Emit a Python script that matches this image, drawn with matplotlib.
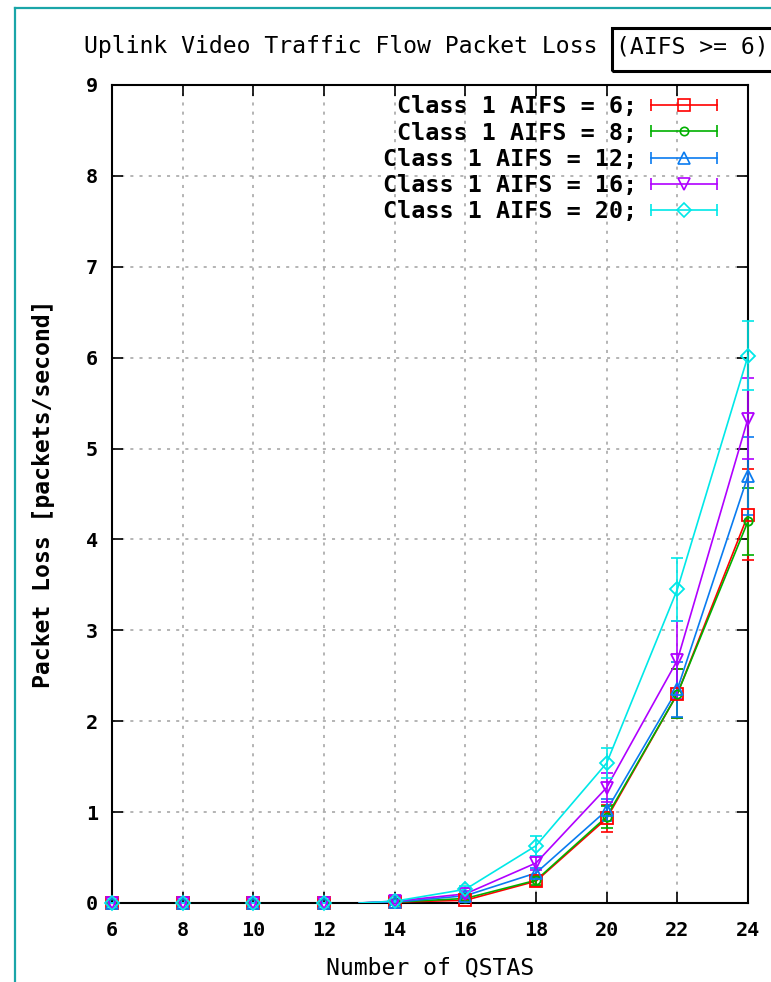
"""
Uplink video packet loss vs. number of QSTAs for several AIFS settings,
drawn in a gnuplot-like style (error bars, dotted grid, mirrored ticks).
"""

import matplotlib
matplotlib.use("Agg")
import matplotlib.pyplot as plt
from matplotlib.lines import Line2D
from matplotlib.patches import Rectangle
from matplotlib.legend_handler import HandlerBase

# number of stations on the x axis
qstas = [6, 8, 10, 12, 14, 16, 18, 20, 22, 24]

# mean packet loss (packets/second) and error bar half-widths
loss_aifs6 = [0, 0, 0, 0, 0.01, 0.03, 0.24, 0.93, 2.30, 4.27]
err_aifs6 = [0, 0, 0, 0, 0.01, 0.02, 0.05, 0.15, 0.27, 0.50]
loss_aifs8 = [0, 0, 0, 0, 0.01, 0.05, 0.25, 0.95, 2.30, 4.20]
err_aifs8 = [0, 0, 0, 0, 0.01, 0.03, 0.05, 0.12, 0.27, 0.37]
loss_aifs12 = [0, 0, 0, 0, 0.01, 0.08, 0.33, 1.02, 2.35, 4.70]
err_aifs12 = [0, 0, 0, 0, 0.01, 0.03, 0.06, 0.12, 0.30, 0.43]
loss_aifs16 = [0, 0, 0, 0, 0.02, 0.10, 0.44, 1.27, 2.67, 5.33]
err_aifs16 = [0, 0, 0, 0, 0.01, 0.03, 0.08, 0.16, 0.43, 0.45]
loss_aifs20 = [0, 0, 0, 0, 0.02, 0.15, 0.63, 1.54, 3.45, 6.02]
err_aifs20 = [0, 0, 0, 0, 0.01, 0.04, 0.11, 0.16, 0.35, 0.38]

labels = ["Class 1 AIFS = 6;", "Class 1 AIFS = 8;", "Class 1 AIFS = 12;",
          "Class 1 AIFS = 16;", "Class 1 AIFS = 20;"]

# connecting lines only start here (loss is 0 at this point)
line_start = 13

MONO = "DejaVu Sans Mono"


class CapLineHandler(HandlerBase):
    """Legend sample: horizontal line with end caps and a marker in the middle."""

    def create_artists(self, legend, orig_handle, xdescent, ydescent,
                       width, height, fontsize, trans):
        c = orig_handle.get_color()
        y = height / 2 - ydescent
        x0, x1 = -xdescent, width - xdescent
        line = Line2D([x0, x1], [y, y], color=c, lw=1.2)
        caps = Line2D([x0, x1], [y, y], color=c, linestyle="none",
                      marker="|", markersize=9, markeredgewidth=1.2)
        mk = Line2D([(x0 + x1) / 2], [y], color=c, linestyle="none",
                    marker=orig_handle.get_marker(),
                    markersize=orig_handle.get_markersize(),
                    markerfacecolor="none", markeredgecolor=c,
                    markeredgewidth=1.2)
        for a in (line, caps, mk):
            a.set_transform(trans)
        return [line, caps, mk]


fig = plt.figure(figsize=(7.71, 9.82), dpi=100)
ax = fig.add_axes([112 / 771, 1 - 903 / 982, (748 - 112) / 771, (903 - 85) / 982])

series = [
    (loss_aifs6, err_aifs6, "#ff0000", "s", 8),
    (loss_aifs8, err_aifs8, "#00b000", "o", 6),
    (loss_aifs12, err_aifs12, "#0a7cf0", "^", 9),
    (loss_aifs16, err_aifs16, "#b000ff", "v", 9),
    (loss_aifs20, err_aifs20, "#00e8e8", "D", 7),
]

handles = []
for (y, e, c, m, ms), lab in zip(series, labels):
    lx = [line_start] + [q for q in qstas if q > line_start]
    ly = [0] + [v for q, v in zip(qstas, y) if q > line_start]
    ax.plot(lx, ly, color=c, lw=1.2, zorder=3)
    eb = ax.errorbar(qstas, y, yerr=e, fmt="none", ecolor=c, elinewidth=1.2,
                     capsize=4, capthick=1.2, zorder=3)
    for art in eb.lines[1] + eb.lines[2]:
        art.set_clip_on(False)
    ax.plot(qstas, y, linestyle="none", marker=m, markersize=ms,
            markerfacecolor="none", markeredgecolor=c, markeredgewidth=1.3,
            zorder=4, clip_on=False)
    handles.append(Line2D([], [], color=c, marker=m, markersize=ms))

ax.set_xlim(6, 24)
ax.set_ylim(0, 9)
ax.set_xticks(range(6, 25, 2))
ax.set_yticks(range(0, 10))
ax.grid(True, color="#a0a0a0", linestyle=(0, (2, 4)), lw=1.1)
ax.tick_params(direction="in", length=8, width=1.2, top=True, right=True,
               labelsize=14.5)
ax.tick_params(axis="x", pad=13)
ax.tick_params(axis="y", pad=10)
for lbl in ax.get_xticklabels() + ax.get_yticklabels():
    lbl.set_fontfamily(MONO)
    lbl.set_fontweight("bold")
for sp in ax.spines.values():
    sp.set_linewidth(1.5)

ax.set_xlabel("Number of QSTAS", fontfamily=MONO, fontsize=16.7, labelpad=12)
ax.set_ylabel("Packet Loss [packets/second]", fontfamily=MONO, fontsize=16.7,
              fontweight="bold", labelpad=22)

leg = ax.legend(handles, labels, handler_map={Line2D: CapLineHandler()},
                loc="upper right", bbox_to_anchor=(0.985, 1.013),
                frameon=False, markerfirst=False, handlelength=2.83,
                handletextpad=0.6, labelspacing=0.14,
                prop={"family": MONO, "weight": "bold", "size": 16.8})

# title, with the parameter range boxed
fig.text(84 / 771, 1 - 47 / 982, "Uplink Video Traffic Flow Packet Loss",
         fontfamily=MONO, fontsize=16.7, va="center", ha="left")
fig.text(616 / 771, 1 - 47 / 982, "(AIFS >= 6)",
         fontfamily=MONO, fontsize=16.7, va="center", ha="left")
fig.add_artist(Rectangle((612 / 771, 1 - 71 / 982), 170 / 771, 43 / 982,
                         transform=fig.transFigure, fill=False,
                         edgecolor="black", lw=2.2))

# page frame
frame_c = "#1aa5a8"
fig.add_artist(Line2D([15 / 771, 15 / 771], [0, 1 - 8 / 982],
                      transform=fig.transFigure, color=frame_c, lw=1.6))
fig.add_artist(Line2D([15 / 771, 1], [1 - 8 / 982, 1 - 8 / 982],
                      transform=fig.transFigure, color=frame_c, lw=1.6))

fig.savefig("out.png", dpi=100)
